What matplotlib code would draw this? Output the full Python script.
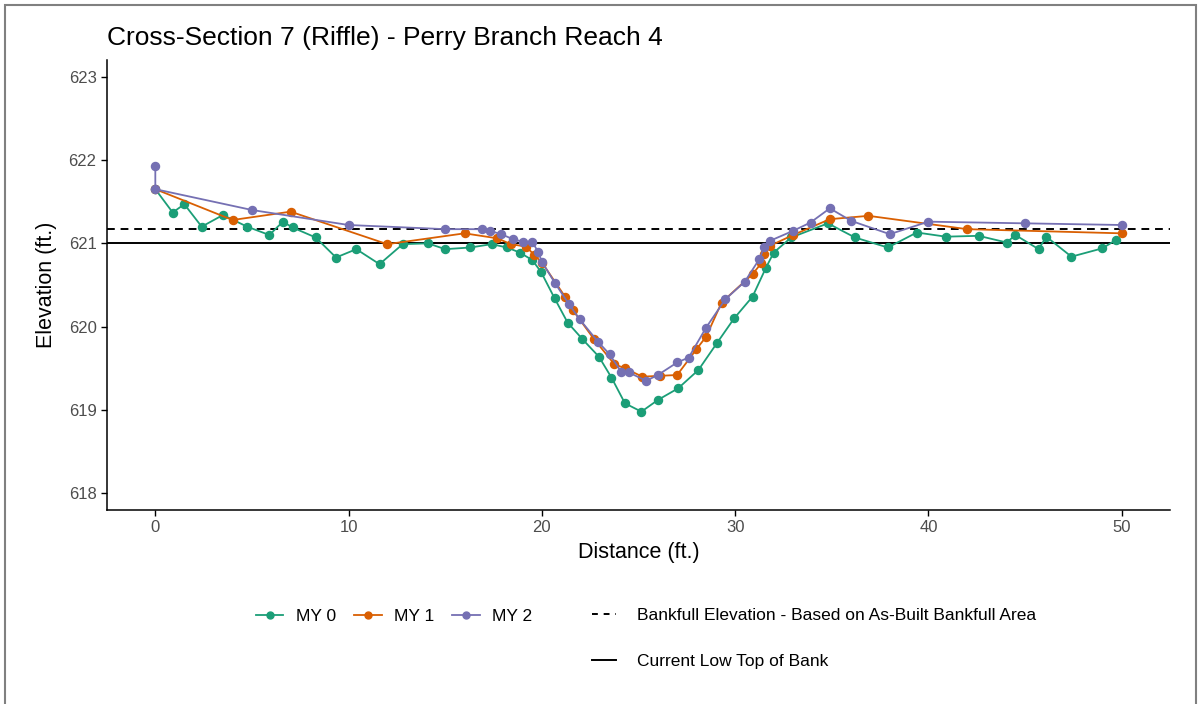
import matplotlib
matplotlib.use("Agg")
import matplotlib.pyplot as plt
from matplotlib.lines import Line2D
from matplotlib.patches import Rectangle

plt.rcParams['font.family'] = ['Liberation Sans', 'DejaVu Sans']

title = "Cross-Section 7 (Riffle) - Perry Branch Reach 4"
x_label = "Distance (ft.)"
y_label = "Elevation (ft.)"

my0_dist = [0, 0.9, 1.5, 2.4, 3.5, 4.75, 5.9, 6.6, 7.1, 8.3, 9.35, 10.4, 11.6, 12.8, 14.1,
            15.0, 16.3, 17.4, 18.2, 18.85, 19.5, 19.95, 20.66, 21.33, 22.1, 22.95, 23.6,
            24.3, 25.15, 26.0, 27.05, 28.1, 29.05, 29.95, 30.9, 31.6, 32.0, 32.9, 34.8,
            36.2, 37.9, 39.4, 40.9, 42.6, 44.05, 44.5, 45.7, 46.1, 47.4, 49.0, 49.7]
my0_elev = [621.65, 621.37, 621.47, 621.20, 621.34, 621.20, 621.10, 621.26, 621.19, 621.07,
            620.83, 620.93, 620.75, 620.99, 621.00, 620.93, 620.95, 620.99, 620.95, 620.89,
            620.80, 620.66, 620.34, 620.05, 619.85, 619.64, 619.39, 619.08, 618.98, 619.12,
            619.26, 619.48, 619.80, 620.10, 620.36, 620.71, 620.89, 621.07, 621.24, 621.07,
            620.95, 621.13, 621.08, 621.09, 621.01, 621.10, 620.93, 621.08, 620.84, 620.94,
            621.04]

my1_dist = [0, 4.0, 7.0, 12.0, 16.0, 17.7, 18.4, 19.2, 19.6, 20.0, 21.2, 21.6, 22.7, 23.75,
            24.3, 25.2, 26.1, 27.0, 28.0, 28.5, 29.3, 30.9, 31.35, 31.5, 31.8, 33.0, 34.9,
            36.9, 42.0, 50.0]
my1_elev = [621.65, 621.28, 621.38, 620.99, 621.12, 621.06, 620.99, 620.96, 620.86, 620.77,
            620.36, 620.20, 619.85, 619.55, 619.50, 619.40, 619.41, 619.42, 619.73, 619.88,
            620.29, 620.63, 620.76, 620.87, 620.97, 621.10, 621.29, 621.33, 621.17, 621.12]

my2_dist = [0, 0, 5.0, 10.0, 15.0, 16.9, 17.3, 17.9, 18.5, 19.0, 19.5, 19.8, 20.0, 20.66,
            21.4, 21.95, 22.9, 23.5, 24.1, 24.5, 25.4, 26.0, 27.0, 27.6, 28.5, 29.5, 30.5,
            31.25, 31.5, 31.8, 33.0, 33.9, 34.9, 36.0, 38.0, 40.0, 45.0, 50.0]
my2_elev = [621.93, 621.65, 621.40, 621.22, 621.17, 621.17, 621.15, 621.11, 621.05, 621.02,
            621.02, 620.90, 620.78, 620.53, 620.27, 620.09, 619.82, 619.67, 619.46, 619.45,
            619.35, 619.42, 619.57, 619.63, 619.99, 620.33, 620.54, 620.81, 620.95, 621.03,
            621.15, 621.25, 621.42, 621.27, 621.11, 621.26, 621.24, 621.22]

bankfull_elev = 621.17
low_top_bank = 621.0

series_labels = ["MY 0", "MY 1", "MY 2"]
series_colors = ["#1B9E77", "#D95F02", "#7570B3"]
bankfull_label = "Bankfull Elevation - Based on As-Built Bankfull Area"
ltob_label = "Current Low Top of Bank"

W, H = 1201, 704
fig = plt.figure(figsize=(W / 100, H / 100), dpi=100)
ax = fig.add_axes([107 / W, 1 - 510 / H, (1170 - 107) / W, (510 - 60) / H])

ax.axhline(bankfull_elev, color="black", linestyle=(0, (4, 3)), linewidth=1.4, zorder=1)
ax.axhline(low_top_bank, color="black", linestyle="-", linewidth=1.4, zorder=1)

data = [(my0_dist, my0_elev), (my1_dist, my1_elev), (my2_dist, my2_elev)]
for (d, e), lab, c in zip(data, series_labels, series_colors):
    ax.plot(d, e, color=c, linewidth=1.3, marker="o", markersize=5.8, label=lab, zorder=3)

ax.set_xlim(-2.5, 52.5)
ax.set_ylim(617.8, 623.2)
ax.set_xticks([0, 10, 20, 30, 40, 50])
ax.set_yticks([618, 619, 620, 621, 622, 623])
for s in ["top", "right"]:
    ax.spines[s].set_visible(False)
for s in ["left", "bottom"]:
    ax.spines[s].set_linewidth(1.1)
ax.tick_params(axis="both", labelsize=12, colors="#4D4D4D", length=4, width=1)
ax.tick_params(axis="both", color="black")
ax.set_xlabel(x_label, fontsize=15.5, labelpad=5)
ax.set_ylabel(y_label, fontsize=15.5, labelpad=8)

fig.text(107 / W, 1 - 38 / H, title, fontsize=19, ha="left", va="center")

h1 = [Line2D([], [], color=c, marker="o", markersize=5, linewidth=1.3) for c in series_colors]
leg1 = fig.legend(h1, series_labels, loc="center left", bbox_to_anchor=(240 / W, 1 - 616 / H),
                  ncol=3, frameon=False, fontsize=12.5, handlelength=1.6, handletextpad=0.7,
                  columnspacing=1.05)
h2 = [Line2D([], [], color="black", linestyle=(0, (3, 3)), linewidth=1.4),
      Line2D([], [], color="black", linestyle="-", linewidth=1.4)]
leg2 = fig.legend(h2, [bankfull_label, ltob_label], loc="center left",
                  bbox_to_anchor=(576 / W, 1 - 638.5 / H), ncol=1, frameon=False, fontsize=12.5,
                  handlelength=1.4, handletextpad=1.2, labelspacing=1.75)

fig.patches.append(Rectangle((5 / W, -0.02), (1196 - 5) / W, 1 - 5 / H + 0.02,
                             transform=fig.transFigure, fill=False, edgecolor="#808080",
                             linewidth=1.5))

fig.savefig("out.png", dpi=100)
